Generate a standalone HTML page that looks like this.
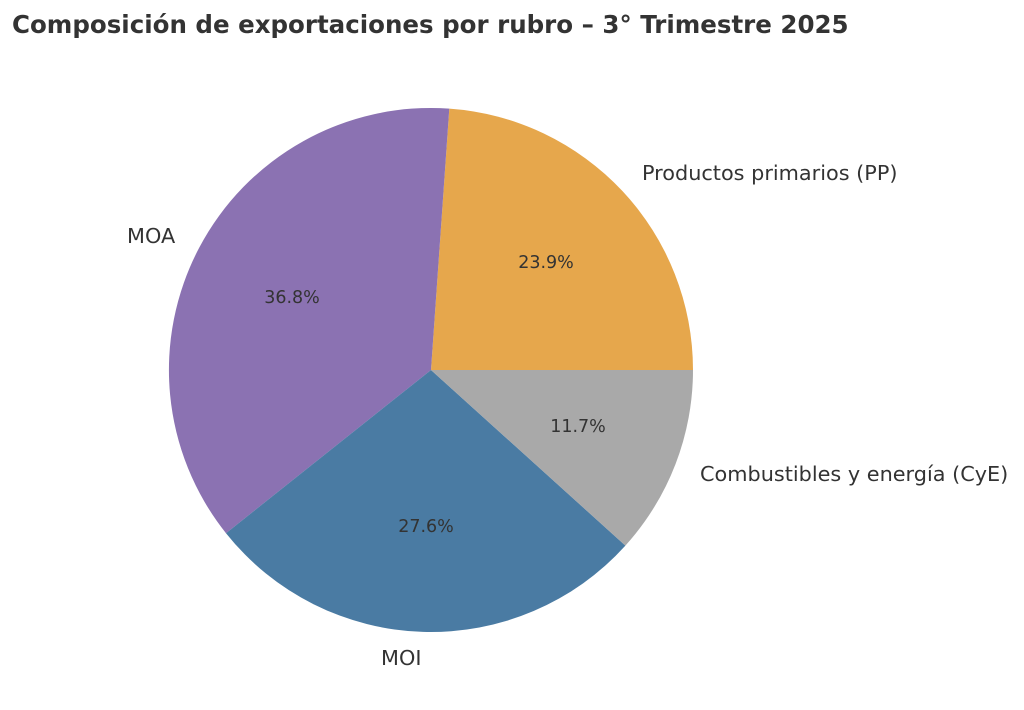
<!DOCTYPE html>
<html><head><meta charset="utf-8"><style>
html,body{margin:0;padding:0;background:#fff;}
svg{display:block;font-family:"DejaVu Sans","Liberation Sans",sans-serif;}
</style></head><body>
<svg width="1024" height="710" viewBox="0 0 1024 710" xmlns="http://www.w3.org/2000/svg">
<rect width="1024" height="710" fill="#fff"/>
<text x="12" y="33" font-size="24.5" font-weight="bold" fill="#333">Composición de exportaciones por rubro – 3° Trimestre 2025</text>
<g transform="translate(431,370)">
<path d="M0,0 L262,0 A262,262 0 0 0 18.3,-261.4 Z" fill="#E6A74C"/>
<path d="M0,0 L18.3,-261.4 A262,262 0 0 0 -205,163.2 Z" fill="#8B72B2"/>
<path d="M0,0 L-205,163.2 A262,262 0 0 0 194.4,175.6 Z" fill="#4A7BA3"/>
<path d="M0,0 L194.4,175.6 A262,262 0 0 0 262,0 Z" fill="#A9A9A9"/>
</g>
<g font-size="20.8" fill="#333">
<text x="642" y="180">Productos primarios (PP)</text>
<text x="127" y="243">MOA</text>
<text x="381" y="665">MOI</text>
<text x="700" y="481">Combustibles y energía (CyE)</text>
</g>
<g font-size="17.5" fill="#333" text-anchor="middle">
<text x="546" y="268">23.9%</text>
<text x="292" y="303">36.8%</text>
<text x="426" y="532">27.6%</text>
<text x="578" y="432">11.7%</text>
</g>
</svg>
</body></html>
